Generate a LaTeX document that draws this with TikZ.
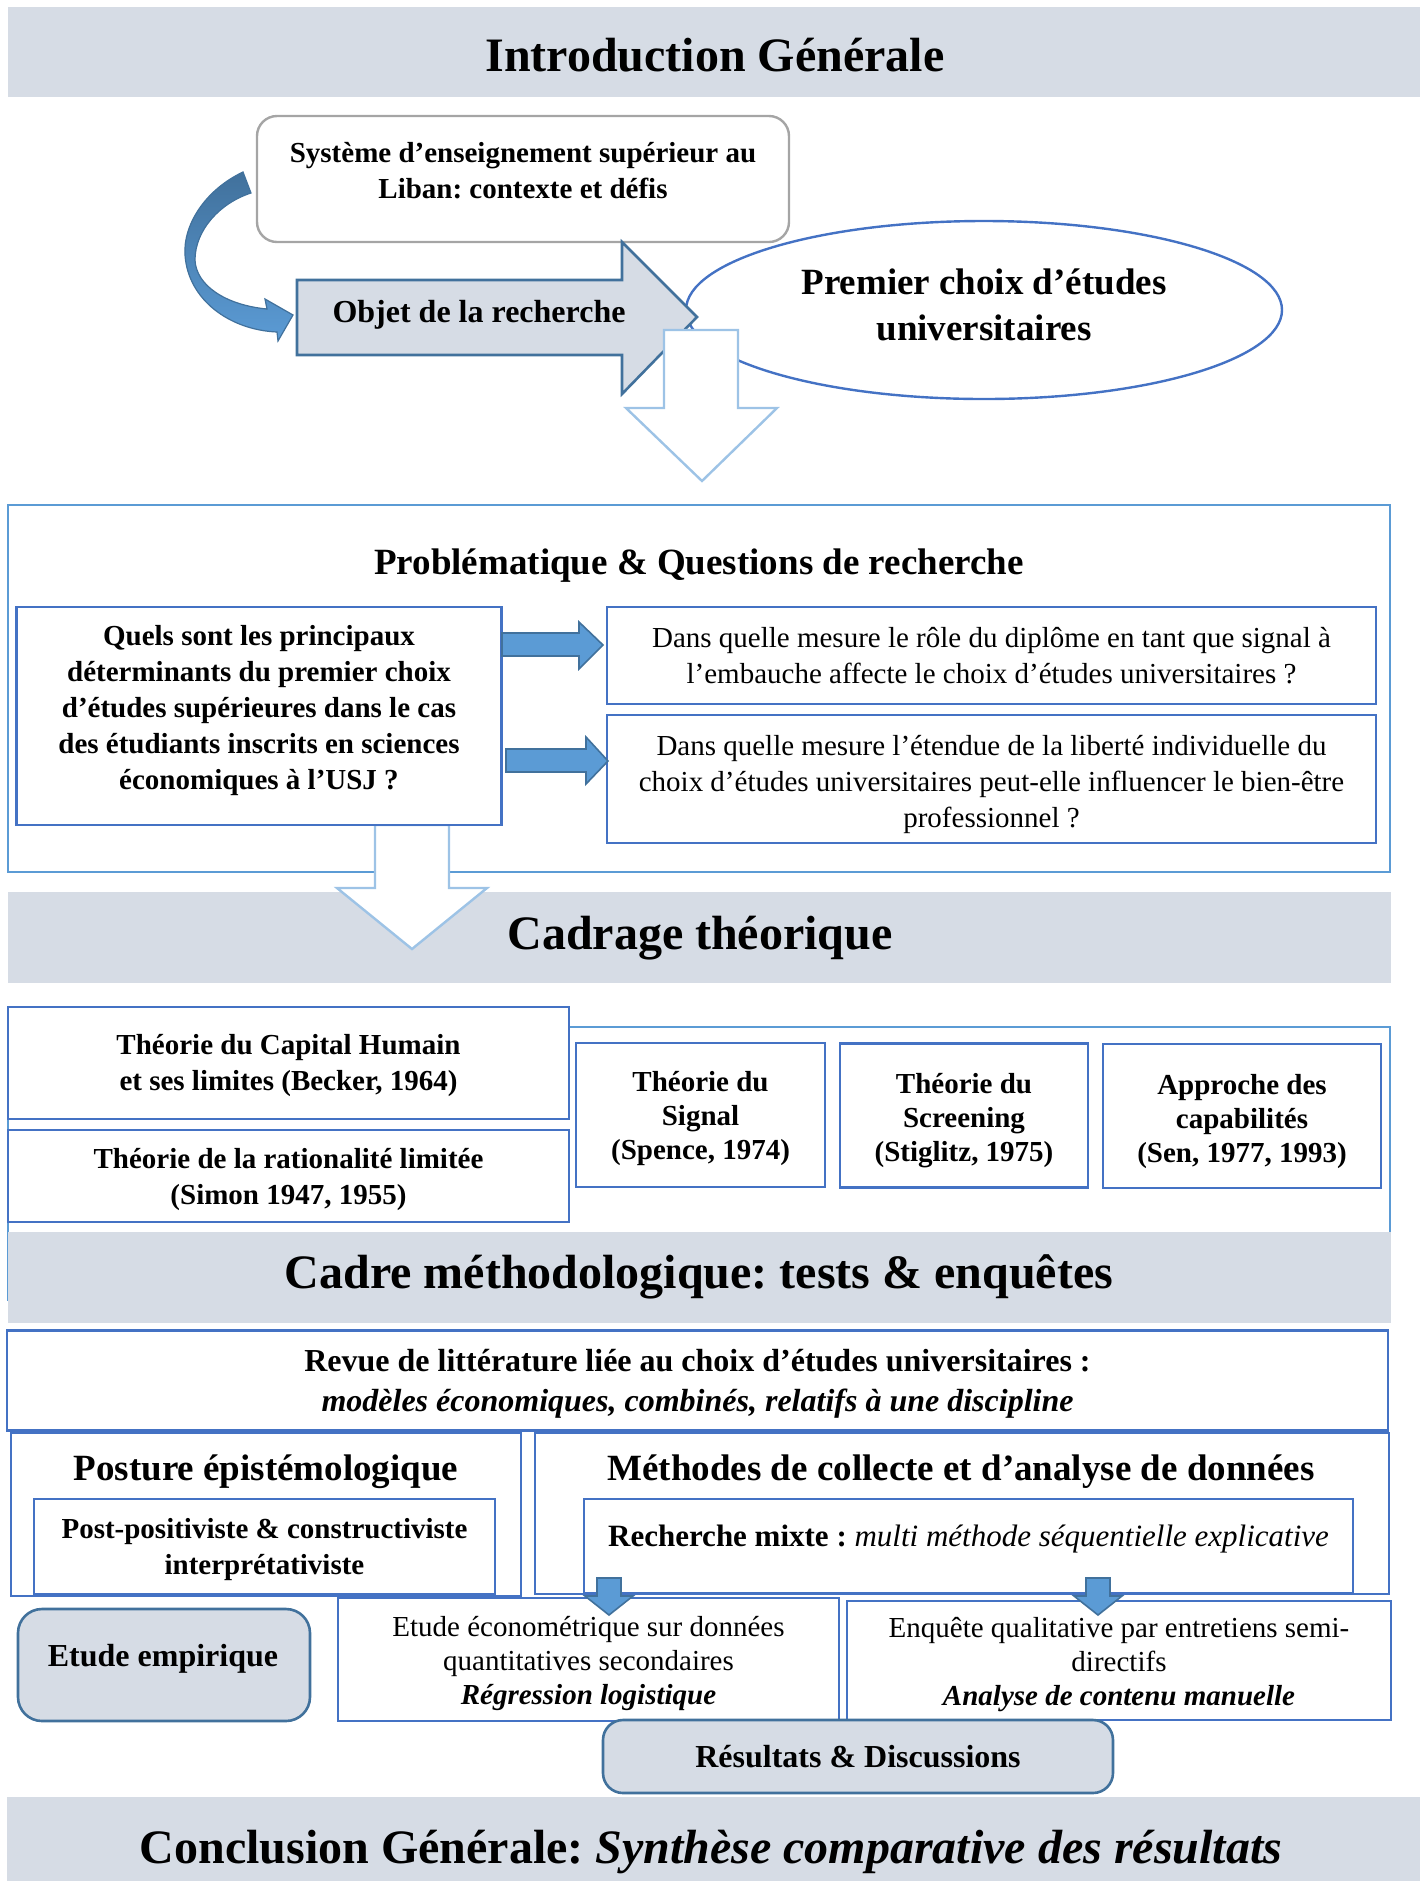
\documentclass[tikz,border=0pt]{standalone}
\usepackage{fontspec}
\setmainfont{Liberation Serif}
\frenchspacing
\usetikzlibrary{shapes.geometric}
\definecolor{bannerfill}{HTML}{D6DCE5}
\definecolor{boxblue}{HTML}{4472C4}
\definecolor{frameblue}{HTML}{5B9BD5}
\definecolor{paleblue}{HTML}{9DC3E6}
\definecolor{darkblue}{HTML}{41719C}
\definecolor{sysgray}{HTML}{A5A5A5}
\begin{document}
\begin{tikzpicture}[x=0.5pt,y=-0.5pt,
		bluebox/.style={draw=boxblue,line width=1.3pt,fill=white,align=center,inner sep=0pt},
		roundbox/.style={draw=darkblue,line width=1.3pt,fill=bannerfill,rounded corners=10pt,inner sep=0pt},
		boxtxt/.style={align=center,inner sep=0pt},
		hollowarrow/.style={draw=paleblue,line width=1.2pt,fill=white},
		bluearrow/.style={draw=darkblue,line width=0.8pt,fill=frameblue},
		frame/.style={draw=frameblue,line width=1.2pt}]
				\newcommand{\myfontbanner}{\fontsize{24}{29}\selectfont\bfseries}
				\newcommand{\myfonttitle}{\fontsize{18.5}{23}\selectfont\bfseries}
				\newcommand{\myfontbox}{\fontsize{14.5}{18}\selectfont}
				\newcommand{\myfonttheory}{\fontsize{14.5}{17}\selectfont\bfseries}
				\newcommand{\myfontbig}{\fontsize{16}{20}\selectfont}
				\useasboundingbox (0,0) rectangle (1420,1881);
				%Introduction banner
				\fill[bannerfill] (8,7) rectangle (1420,97);
				\node[font=\myfontbanner] (intro) at (715,55) {Introduction Générale};
				%Context box
				\node[draw=sysgray,line width=1.2pt,rounded corners=10pt,minimum width=266pt,minimum height=63pt] (systeme) at (523,179) {};
				\node[boxtxt,font=\myfontbox\bfseries] (systemetxt) at (523,171) {Système d’enseignement supérieur au\\Liban: contexte et défis};
				%Curved arrow from the context to the object
				\shadedraw[top color=darkblue,bottom color=frameblue,draw=darkblue,line width=0.6pt]
					(243,172) .. controls (205,190) and (183,225) .. (185,255)
					.. controls (188,300) and (230,330) .. (277,332)
					-- (278,341) -- (293,315) -- (265,299) -- (267,309)
					.. controls (225,305) and (196,285) .. (195,260)
					.. controls (195,230) and (220,203) .. (251,193) -- cycle;
				%First choice ellipse
				\node[ellipse,draw=boxblue,line width=1.2pt,minimum width=298pt,minimum height=89pt,inner sep=0pt] (choix) at (984,310) {};
				\node[boxtxt,font=\myfonttitle] (choixtxt) at (984,305) {Premier choix d’études\\universitaires};
				%Object arrow
				\filldraw[draw=darkblue,line width=1.3pt,fill=bannerfill] (297,280) -- (622,280) -- (622,242) -- (697,317) -- (622,394) -- (622,355) -- (297,355) -- cycle;
				\node[font=\myfontbig\bfseries] (objet) at (479,314.5) {Objet de la recherche};
				%Hollow arrow down
				\filldraw[hollowarrow] (664,330) -- (738,330) -- (738,408) -- (777,408) -- (702,481) -- (626,408) -- (664,408) -- cycle;
				%Research questions
				\draw[frame] (8,505) rectangle (1390,872);
				\node[font=\myfonttitle] (problematique) at (699,566) {Problématique \& Questions de recherche};
				%Cadrage banner with the second hollow arrow
				\fill[bannerfill] (8,892) rectangle (1391,983);
				\node[font=\myfontbanner] (cadrage) at (700,938) {Cadrage théorique};
				\filldraw[hollowarrow] (375,825) -- (449,825) -- (449,888) -- (487,888) -- (412,949) -- (337,888) -- (375,888) -- cycle;
				\node[bluebox,minimum width=242.5pt,minimum height=109pt] (question) at (259,716) {};
				\node[boxtxt,font=\myfontbox\bfseries] (questiontxt) at (259,711) {Quels sont les principaux\\déterminants du premier choix\\d’études supérieures dans le cas\\des étudiants inscrits en sciences\\économiques à l’USJ ?};
				\node[bluebox,font=\myfontbox,minimum width=384.5pt,minimum height=48.5pt] (signalq) at (991.5,655.5) {Dans quelle mesure le rôle du diplôme en tant que signal à\\l’embauche affecte le choix d’études universitaires ?};
				\node[bluebox,minimum width=384.5pt,minimum height=64pt] (liberteq) at (991.5,779) {};
				\node[boxtxt,font=\myfontbox] (liberteqtxt) at (991.5,784) {Dans quelle mesure l’étendue de la liberté individuelle du\\choix d’études universitaires peut-elle influencer le bien-être\\professionnel ?};
				\filldraw[bluearrow] (502,633) -- (579,633) -- (579,622) -- (603,645) -- (579,669) -- (579,656) -- (502,656) -- cycle;
				\filldraw[bluearrow] (506,749) -- (586,749) -- (586,737) -- (608,761) -- (586,784) -- (586,772) -- (506,772) -- cycle;
				%Theories
				\draw[frame] (8,1027) rectangle (1390,1300);
				\node[bluebox,minimum width=280.5pt,minimum height=56pt] (capital) at (288.5,1063) {};
				\node[boxtxt,font=\myfontbox\bfseries] (capitaltxt) at (288.5,1065.5) {Théorie du Capital Humain\\et ses limites (Becker, 1964)};
				\node[bluebox,minimum width=280.5pt,minimum height=46pt] (rationalite) at (288.5,1176) {};
				\node[boxtxt,font=\myfontbox\bfseries] (rationalitetxt) at (288.5,1179.5) {Théorie de la rationalité limitée\\(Simon 1947, 1955)};
				\node[bluebox,minimum width=124.5pt,minimum height=72pt] (signal) at (700.5,1115) {};
				\node[boxtxt,font=\myfonttheory] (signaltxt) at (700.5,1118) {Théorie du\\Signal\\(Spence, 1974)};
				\node[bluebox,minimum width=124pt,minimum height=72pt] (screening) at (964,1115.5) {};
				\node[boxtxt,font=\myfonttheory] (screeningtxt) at (964,1121) {Théorie du\\Screening\\(Stiglitz, 1975)};
				\node[bluebox,minimum width=139pt,minimum height=72pt] (capabilites) at (1242,1116) {};
				\node[boxtxt,font=\myfonttheory] (capabilitestxt) at (1242,1121.5) {Approche des\\capabilités\\(Sen, 1977, 1993)};
				%Methodology banner
				\fill[bannerfill] (8,1232) rectangle (1391,1323);
				\node[font=\myfontbanner] (cadre) at (699,1277) {Cadre méthodologique: tests \& enquêtes};
				\node[bluebox,minimum width=690.5pt,minimum height=50pt] (revue) at (697.5,1380.5) {};
				\node[boxtxt,font=\myfontbig\bfseries] (revuetxt) at (697.5,1384) {Revue de littérature liée au choix d’études universitaires :\\\textit{modèles économiques, combinés, relatifs à une discipline}};
				%Posture
				\node[bluebox,minimum width=255pt,minimum height=81.5pt] (posture) at (266,1514.5) {};
				\node[font=\myfonttitle] (posturetxt) at (266,1472) {Posture épistémologique};
				\node[bluebox,minimum width=230.5pt,minimum height=47.5pt] (positiviste) at (264.5,1546.5) {};
				\node[boxtxt,font=\myfontbox\bfseries] (positivistetxt) at (264.5,1549.5) {Post-positiviste \& constructiviste\\interprétativiste};
				%Methods
				\node[bluebox,minimum width=427pt,minimum height=80.5pt] (methodes) at (962,1513.5) {};
				\node[font=\myfonttitle] (methodestxt) at (961,1472) {Méthodes de collecte et d’analyse de données};
				\node[bluebox,minimum width=384.5pt,minimum height=47pt] (mixte) at (968.5,1546) {};
				\node[font=\fontsize{15.5}{19}\selectfont] (mixtetxt) at (968.5,1539.5) {\textbf{Recherche mixte :} \textit{multi méthode séquentielle explicative}};
				%Empirical study
				\node[roundbox,rounded corners=12pt,minimum width=146pt,minimum height=56pt] (empirique) at (164,1665) {};
				\node[font=\myfontbig\bfseries] (empiriquetxt) at (163,1658.5) {Etude empirique};
				\node[bluebox,minimum width=250.5pt,minimum height=61.5pt] (econometrie) at (588.5,1659.5) {};
				\node[boxtxt,font=\fontsize{14.5}{17}\selectfont] (econometrietxt) at (588.5,1663.5) {Etude économétrique sur données\\quantitatives secondaires\\\textbf{\textit{Régression logistique}}};
				\node[bluebox,minimum width=272pt,minimum height=59.5pt] (enquete) at (1119,1660.5) {};
				\node[boxtxt,font=\fontsize{14.5}{17}\selectfont] (enquetetxt) at (1119,1665) {Enquête qualitative par entretiens semi-\\directifs\\\textbf{\textit{Analyse de contenu manuelle}}};
				\filldraw[bluearrow] (597,1578) -- (621,1578) -- (621,1596) -- (633,1596) -- (609,1615) -- (585,1596) -- (597,1596) -- cycle;
				\filldraw[bluearrow] (1086,1578) -- (1110,1578) -- (1110,1596) -- (1122,1596) -- (1098,1615) -- (1074,1596) -- (1086,1596) -- cycle;
				\node[roundbox,font=\myfontbig\bfseries,minimum width=255pt,minimum height=36.5pt] (resultats) at (858,1756.5) {Résultats \& Discussions};
				%Conclusion banner
				\fill[bannerfill] (7,1797) rectangle (1420,1881);
				\node[font=\myfontbanner] (conclusion) at (711,1852) {Conclusion Générale: \textit{Synthèse comparative des résultats}};
\end{tikzpicture}
\end{document}
